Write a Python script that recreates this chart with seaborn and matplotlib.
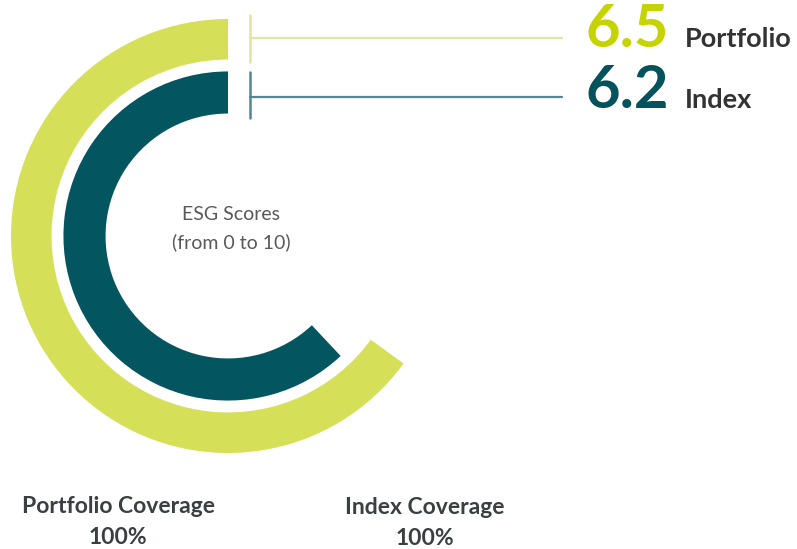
import numpy as np
import pandas as pd
import seaborn as sns
import matplotlib.pyplot as plt
from matplotlib.lines import Line2D

# ESG scores (0 to 10)
series = ["Portfolio", "Index"]
scores = [6.5, 6.2]
coverage = ["100%", "100%"]
ring_colors = ["#d6df58", "#035560"]
value_colors = ["#c5d300", "#03525c"]
line_colors = ["#e0e69c", "#4f8893"]

W, H = 797, 549
sns.set_theme(style="white")
plt.rcParams["font.family"] = ["Lato", "DejaVu Sans"]

fig = plt.figure(figsize=(W / 100, H / 100), dpi=100)

# polar axes centred on the rings (pixel geometry)
cx, cy, R = 228, 236, 217
ax = fig.add_axes([(cx - R) / W, (H - cy - R) / H, 2 * R / W, 2 * R / H],
                  projection="polar")
ax.set_theta_zero_location("N")
ax.set_theta_direction(1)

df = pd.DataFrame({
    "series": series,
    "theta": [s / 10 * 2 * np.pi for s in scores],
    "ring": [197.5, 143.5],
})
sns.barplot(data=df, x="theta", y="ring", hue="series", orient="y",
            native_scale=True, dodge=False, width=0.78, linewidth=0,
            saturation=1, palette=ring_colors, errorbar=None, legend=False,
            ax=ax)
ax.set_ylim(0, R)
ax.set_rorigin(0)
ax.axis("off")


def fx(x):
    return x / W


def fy(y):
    return 1 - y / H


# leader lines from the arc starts to the values
for i, (ly, y0, y1) in enumerate([(38, 15, 62), (97, 72, 118)]):
    fig.add_artist(Line2D([fx(250), fx(250)], [fy(y0), fy(y1)],
                          color=line_colors[i], lw=1.8))
    fig.add_artist(Line2D([fx(250), fx(562)], [fy(ly), fy(ly)],
                          color=line_colors[i], lw=1.6))

# big values + names
for i, base in enumerate([47, 108]):
    fig.text(fx(586), fy(base), f"{scores[i]:.1f}", fontsize=43,
             fontweight="bold", color=value_colors[i], va="baseline")
    fig.text(fx(685), fy(base), series[i], fontsize=19.5, fontweight="bold",
             color="#333333", va="baseline")

# centre label
fig.text(fx(231), fy(220), "ESG Scores", fontsize=14, color="#595959",
         ha="center", va="baseline")
fig.text(fx(231), fy(248), "(from 0 to 10)", fontsize=14, color="#595959",
         ha="center", va="baseline")

# coverage labels
for (x, y), name, cov in zip([(118, 513), (425, 514)],
                             ["Portfolio Coverage", "Index Coverage"], coverage):
    fig.text(fx(x), fy(y), name, fontsize=16.5, fontweight="bold",
             color="#3a3f41", ha="center", va="baseline")
    fig.text(fx(x), fy(y + 31), cov, fontsize=16.5, fontweight="bold",
             color="#3a3f41", ha="center", va="baseline")

plt.savefig("out.png", dpi=100)
